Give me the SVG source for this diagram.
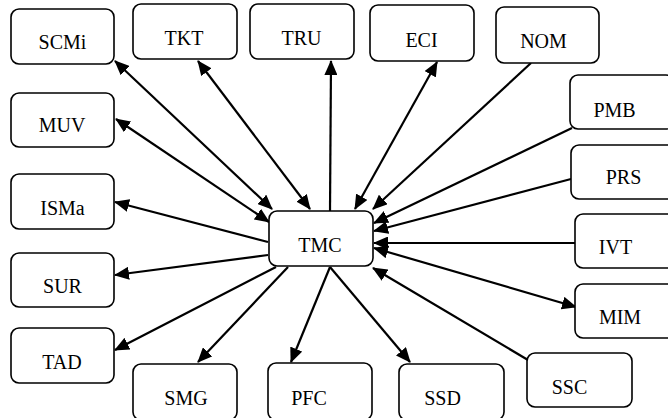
<svg xmlns="http://www.w3.org/2000/svg" width="668" height="418" viewBox="0 0 668 418">
<style>
.box{fill:#fff;stroke:#000;stroke-width:1.6}
.lbl{font-family:"Liberation Serif",Tinos,"Times New Roman",Times,"DejaVu Serif",serif;font-size:20px;fill:#000;text-anchor:middle}
.c{stroke:#000;stroke-width:2.2;fill:none}
.e{marker-end:url(#ah)}
.b{marker-end:url(#ah);marker-start:url(#ah)}
</style>
<defs>
<marker id="ah" markerUnits="userSpaceOnUse" markerWidth="15" markerHeight="13" refX="14" refY="6.5" orient="auto-start-reverse">
<path d="M0,0 L15,6.5 L0,13 z" fill="#000"/>
</marker>
</defs>
<rect width="668" height="418" fill="#fff"/>
<g id="connectors">
<line class="c b" x1="115" y1="61" x2="272" y2="209"/>
<line class="c b" x1="198" y1="61" x2="310" y2="209"/>
<line class="c b" x1="116" y1="119" x2="269" y2="222"/>
<line class="c e" x1="330" y1="211" x2="331" y2="61"/>
<line class="c b" x1="437" y1="62" x2="355" y2="209"/>
<line class="c e" x1="531" y1="63" x2="373" y2="209"/>
<line class="c e" x1="572" y1="128" x2="374" y2="223"/>
<line class="c e" x1="571" y1="179" x2="374" y2="231"/>
<line class="c e" x1="575" y1="243" x2="374" y2="243"/>
<line class="c b" x1="374" y1="248" x2="576" y2="307"/>
<line class="c e" x1="528" y1="360" x2="373" y2="268"/>
<line class="c e" x1="330" y1="267" x2="410" y2="362"/>
<line class="c e" x1="330" y1="267" x2="291" y2="362"/>
<line class="c e" x1="288" y1="267" x2="198" y2="362"/>
<line class="c e" x1="276" y1="267" x2="115" y2="350"/>
<line class="c e" x1="268" y1="255" x2="115" y2="275"/>
<line class="c e" x1="268" y1="242" x2="115" y2="202"/>
</g>
<g id="SCMi"><rect class="box" x="11" y="9" width="103" height="55" rx="8"/><text class="lbl" x="62.5" y="49">SCMi</text></g>
<g id="TKT"><rect class="box" x="133" y="4" width="104" height="55" rx="8"/><text class="lbl" x="184" y="45">TKT</text></g>
<g id="TRU"><rect class="box" x="250" y="4" width="104" height="55" rx="8"/><text class="lbl" x="301.5" y="45">TRU</text></g>
<g id="ECI"><rect class="box" x="370" y="5" width="104" height="56" rx="8"/><text class="lbl" x="421.5" y="47">ECI</text></g>
<g id="NOM"><rect class="box" x="496" y="7" width="103" height="56" rx="8"/><text class="lbl" x="543.5" y="48">NOM</text></g>
<g id="PMB"><rect class="box" x="570" y="75" width="104" height="54" rx="8"/><text class="lbl" x="614.5" y="117">PMB</text></g>
<g id="MUV"><rect class="box" x="11" y="93" width="103" height="54" rx="8"/><text class="lbl" x="62" y="132">MUV</text></g>
<g id="PRS"><rect class="box" x="571" y="145" width="104" height="54" rx="8"/><text class="lbl" x="623.5" y="184">PRS</text></g>
<g id="ISMa"><rect class="box" x="11" y="174" width="103" height="55" rx="8"/><text class="lbl" x="62.5" y="215">ISMa</text></g>
<g id="TMC"><rect class="box" x="269" y="211" width="104" height="55" rx="8"/><text class="lbl" x="320" y="252">TMC</text></g>
<g id="IVT"><rect class="box" x="575" y="214" width="104" height="54" rx="8"/><text class="lbl" x="615.5" y="254">IVT</text></g>
<g id="SUR"><rect class="box" x="11" y="253" width="103" height="54" rx="8"/><text class="lbl" x="62.5" y="293">SUR</text></g>
<g id="MIM"><rect class="box" x="575" y="284" width="104" height="54" rx="8"/><text class="lbl" x="620" y="324">MIM</text></g>
<g id="TAD"><rect class="box" x="11" y="328" width="103" height="55" rx="8"/><text class="lbl" x="62" y="369">TAD</text></g>
<g id="SSC"><rect class="box" x="527" y="353" width="105" height="54" rx="8"/><text class="lbl" x="569.5" y="394">SSC</text></g>
<g id="SMG"><rect class="box" x="133" y="364" width="104" height="56" rx="8"/><text class="lbl" x="186" y="405">SMG</text></g>
<g id="PFC"><rect class="box" x="268" y="363" width="104" height="57" rx="8"/><text class="lbl" x="309" y="405">PFC</text></g>
<g id="SSD"><rect class="box" x="399" y="364" width="105" height="56" rx="8"/><text class="lbl" x="442.5" y="405">SSD</text></g>
</svg>
